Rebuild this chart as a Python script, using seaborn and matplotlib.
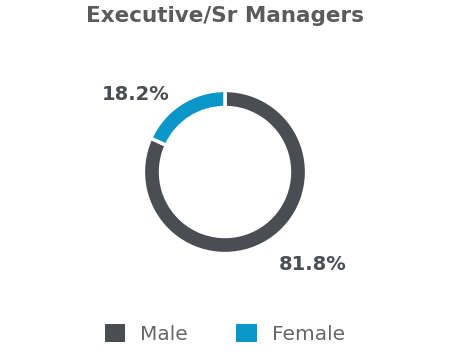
# Executive/Sr Managers gender split - donut chart
import matplotlib
matplotlib.use("Agg")
import matplotlib.pyplot as plt
from matplotlib.patches import Patch
import seaborn as sns

# Data
labels = ["Male", "Female"]
shares = [81.8, 18.2]
colors = ["#4a4d51", "#0a96c8"]

sns.set_theme(style="white")
plt.rcParams["font.family"] = ["DejaVu Sans"]

fig = plt.figure(figsize=(4.5, 3.54), dpi=100)
ax = fig.add_axes([123 / 450, 80 / 354, 204 / 450, 204 / 354])

wedges, _ = ax.pie(shares, colors=sns.color_palette(colors), startangle=90,
                   counterclock=False, radius=1.0,
                   wedgeprops=dict(width=0.21, edgecolor="white", linewidth=2.5))
ax.set_xlim(-1.25, 1.25)
ax.set_ylim(-1.25, 1.25)
ax.set_aspect("equal")
ax.axis("off")

# percentage labels
ax.text(-1.1, 0.95, f"{shares[1]}%", ha="center", va="center",
        fontsize=14, fontweight="bold", color="#4a4d51")
ax.text(1.07, -1.13, f"{shares[0]}%", ha="center", va="center",
        fontsize=14, fontweight="bold", color="#4a4d51")

fig.text(0.5, 1 - 16 / 354, "Executive/Sr Managers", ha="center", va="center",
         fontsize=15.5, fontweight="bold", color="#5b5b5b")

handles = [Patch(facecolor=c, edgecolor="none") for c in colors]
fig.legend(handles, labels, loc="center", bbox_to_anchor=(0.5, 20 / 354), ncol=2,
           frameon=False, handlelength=1.0, handleheight=1.0, columnspacing=2.4,
           handletextpad=0.75, prop={"size": 14.5}, labelcolor="#666666")

fig.savefig("out.png", dpi=100)
